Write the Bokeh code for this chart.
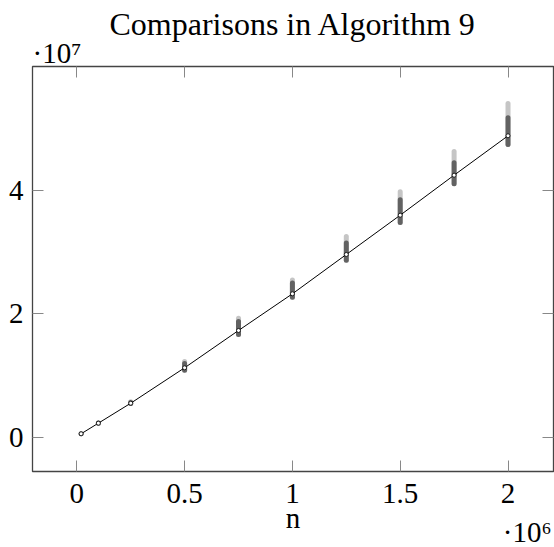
from bokeh.plotting import figure
from bokeh.models import Range1d, FixedTicker, LinearAxis, Title
from bokeh.embed import file_html
from bokeh.resources import INLINE

# ---- data ----
n_values = [20000, 100000, 250000, 500000, 750000, 1000000, 1250000, 1500000, 1750000, 2000000]
mean_comparisons = [0.060e7, 0.232e7, 0.555e7, 1.129e7, 1.733e7, 2.327e7, 2.964e7, 3.600e7, 4.248e7, 4.886e7]
sample_low = [0.060e7, 0.232e7, 0.550e7, 1.090e7, 1.670e7, 2.270e7, 2.870e7, 3.480e7, 4.110e7, 4.745e7]
sample_dense_top = [0.060e7, 0.236e7, 0.565e7, 1.200e7, 1.880e7, 2.500e7, 3.150e7, 3.850e7, 4.450e7, 5.180e7]
sample_high = [0.062e7, 0.240e7, 0.580e7, 1.230e7, 1.930e7, 2.550e7, 3.255e7, 3.980e7, 4.630e7, 5.410e7]

x_ticks = [0, 500000, 1000000, 1500000, 2000000]
x_tick_labels = ["0", "0.5", "1", "1.5", "2"]
y_ticks = [0, 20000000, 40000000]
y_tick_labels = ["0", "2", "4"]

title_text = "Comparisons in Algorithm 9"
x_label_text = "n"
x_scale_text = "\u00b710\u2076"
y_scale_text = "\u00b710\u2077"

FONT = "Liberation Serif"
W, H = 554, 547
X0, X1 = -205500, 2211000
Y0, Y1 = -0.5506e7, 6.008e7

p = figure(
    width=W, height=H,
    x_range=Range1d(X0, X1), y_range=Range1d(Y0, Y1),
    output_backend="svg", toolbar_location=None,
    min_border_left=32, min_border_right=1, min_border_top=66, min_border_bottom=76,
)
p.title.text = ""
p.grid.visible = False
p.outline_line_color = "#444444"
p.outline_line_width = 1.3
p.background_fill_color = "white"
p.border_fill_color = "white"

bx = p.below[0]
ly = p.left[0]
bx.ticker = FixedTicker(ticks=x_ticks)
ly.ticker = FixedTicker(ticks=y_ticks)

# mirrored tick marks on the top and right sides (no labels)
top_axis = LinearAxis(ticker=FixedTicker(ticks=[], minor_ticks=x_ticks))
right_axis = LinearAxis(ticker=FixedTicker(ticks=[], minor_ticks=y_ticks))
p.add_layout(top_axis, "above")
p.add_layout(right_axis, "right")

for ax in [bx, ly]:
    ax.major_tick_in = 11
    ax.major_tick_out = 0
    ax.minor_tick_in = 0
    ax.minor_tick_out = 0
for ax in [top_axis, right_axis]:
    ax.major_tick_in = 0
    ax.major_tick_out = 0
    ax.minor_tick_in = 11
    ax.minor_tick_out = 0
    ax.minor_tick_line_color = "#888888"
    ax.minor_tick_line_width = 1
for ax in [bx, ly, top_axis, right_axis]:
    ax.axis_line_color = None
    ax.major_tick_line_color = "#888888"
    ax.major_tick_line_width = 1

bx.major_label_overrides = dict(zip(x_ticks, x_tick_labels))
bx.major_label_text_font = FONT
bx.major_label_text_font_size = "29px"
bx.major_label_text_color = "black"
bx.major_label_standoff = 12
bx.axis_label = x_label_text
bx.axis_label_text_font = FONT
bx.axis_label_text_font_size = "29px"
bx.axis_label_text_font_style = "normal"
bx.axis_label_text_color = "black"
bx.axis_label_standoff = -4

ly.major_label_overrides = dict(zip(y_ticks, y_tick_labels))
ly.major_label_text_font = FONT
ly.major_label_text_font_size = "29px"
ly.major_label_text_color = "black"
ly.major_label_standoff = 9

# multiplier above the y axis (nearest to the frame), then the title
p.add_layout(Title(text=y_scale_text, align="left", offset=0, standoff=-8,
                   vertical_align="top", text_font=FONT, text_font_size="29px",
                   text_font_style="normal", text_color="black"), "above")
p.add_layout(Title(text=title_text, align="center", standoff=-7,
                   vertical_align="top", text_font=FONT, text_font_size="32px",
                   text_font_style="normal", text_color="black"), "above")
# multiplier under the x axis, pulled up beside the axis label
p.add_layout(Title(text=x_scale_text, align="right", offset=2, standoff=-42,
                   vertical_align="top", text_font=FONT, text_font_size="29px",
                   text_font_style="normal", text_color="black"), "below")

# spread of the runs
p.segment(x0=n_values, y0=sample_low, x1=n_values, y1=sample_high,
          line_color="#404040", line_alpha=0.3, line_width=5, line_cap="round")
p.segment(x0=n_values, y0=sample_low, x1=n_values, y1=sample_dense_top,
          line_color="#383838", line_alpha=0.7, line_width=5, line_cap="round")

# mean line with markers
p.line(n_values, mean_comparisons, line_color="black", line_width=1)
p.scatter(n_values, mean_comparisons, marker="circle", size=4,
          fill_color="white", line_color="black", line_width=0.8)

open("out.html", "w").write(file_html(p, INLINE))
